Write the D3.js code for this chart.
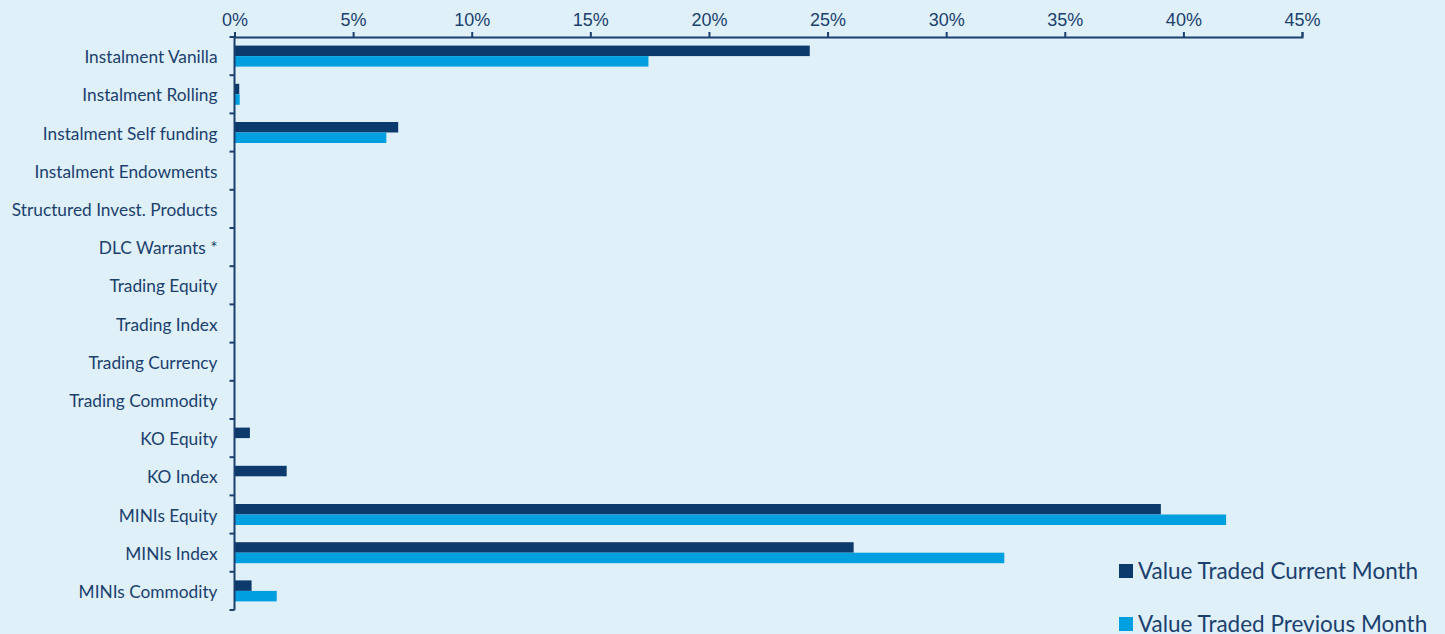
<!DOCTYPE html>
<html><head><meta charset="utf-8">
<script src="https://cdn.jsdelivr.net/npm/d3@7"></script>
<style>
html,body{margin:0;padding:0;background:#dff0f8;}
svg{display:block;}
</style></head>
<body>
<svg id="chart" width="1445" height="634"></svg>
<script>
const categories = ["Instalment Vanilla","Instalment Rolling","Instalment Self funding","Instalment Endowments","Structured Invest. Products","DLC Warrants *","Trading Equity","Trading Index","Trading Currency","Trading Commodity","KO Equity","KO Index","MINIs Equity","MINIs Index","MINIs Commodity"];
const currentMonth = [24.25,0.2,6.9,0,0,0,0,0,0,0,0.65,2.2,39.05,26.1,0.72];
const previousMonth = [17.45,0.22,6.4,0,0,0,0,0,0,0,0,0,41.8,32.45,1.78];
const seriesNames = ["Value Traded Current Month","Value Traded Previous Month"];
const tickValues = [0,5,10,15,20,25,30,35,40,45];

const colors = ["#0d3a6c","#00a0e0"];
const textColor = "#1b3f6e";
const svg = d3.select("#chart");
const x = d3.scaleLinear().domain([0,45]).range([234.5,1302]);
const y = d3.scaleBand().domain(categories).range([37,610]);
const inner = d3.scaleBand().domain([0,1]).range([0,21]);
const bandOffset = (y.bandwidth()-21)/2;

const data = categories.map((c,i)=>({cat:c, vals:[currentMonth[i], previousMonth[i]]}));

const g = svg.append("g");
data.forEach(d=>{
  d.vals.forEach((v,s)=>{
    if(v<=0) return;
    g.append("rect")
      .attr("x", x(0))
      .attr("y", y(d.cat)+bandOffset+inner(s))
      .attr("width", x(v)-x(0))
      .attr("height", inner.bandwidth())
      .attr("fill", colors[s]);
  });
});

// top axis
const xAxis = d3.axisTop(x).tickValues(tickValues).tickFormat(d=>d+"%").tickSize(5).tickSizeOuter(5);
const xa = svg.append("g").attr("transform","translate(0,37)").call(xAxis);
xa.select(".domain").attr("stroke",textColor).attr("stroke-width",2);
xa.selectAll(".tick line").attr("stroke",textColor).attr("stroke-width",2);
xa.selectAll(".tick text").attr("fill",textColor).attr("font-family","'Liberation Sans',Arial,sans-serif").attr("font-size","18px").attr("dy","-3");

// left axis
const ya = svg.append("g").attr("transform","translate(234.5,0)");
ya.append("line").attr("x1",0).attr("x2",0).attr("y1",37).attr("y2",610).attr("stroke",textColor).attr("stroke-width",2);
const boundaries = categories.map(c=>y(c)).concat([y.range()[1]]);
ya.selectAll("line.t").data(boundaries).enter().append("line").attr("class","t")
  .attr("x1",-5).attr("x2",0).attr("y1",d=>d).attr("y2",d=>d).attr("stroke",textColor).attr("stroke-width",2);
ya.selectAll("text").data(categories).enter().append("text")
  .attr("x",-17).attr("y",d=>y(d)+y.bandwidth()/2+1).attr("dy","0.35em")
  .attr("text-anchor","end").attr("fill",textColor)
  .attr("font-family","Lato,'Open Sans',sans-serif").attr("font-size","17.3px")
  .text(d=>d);

// legend
const lg = svg.append("g");
seriesNames.forEach((n,i)=>{
  const yy = 571 + i*53;
  lg.append("rect").attr("x",1119).attr("y",yy-7).attr("width",14).attr("height",14).attr("fill",colors[i]);
  lg.append("text").attr("x",1138).attr("y",yy).attr("dy","0.35em").attr("fill",textColor)
    .attr("font-family","Lato,'Open Sans',sans-serif").attr("font-size","22.5px").text(n);
});
</script>
</body></html>
